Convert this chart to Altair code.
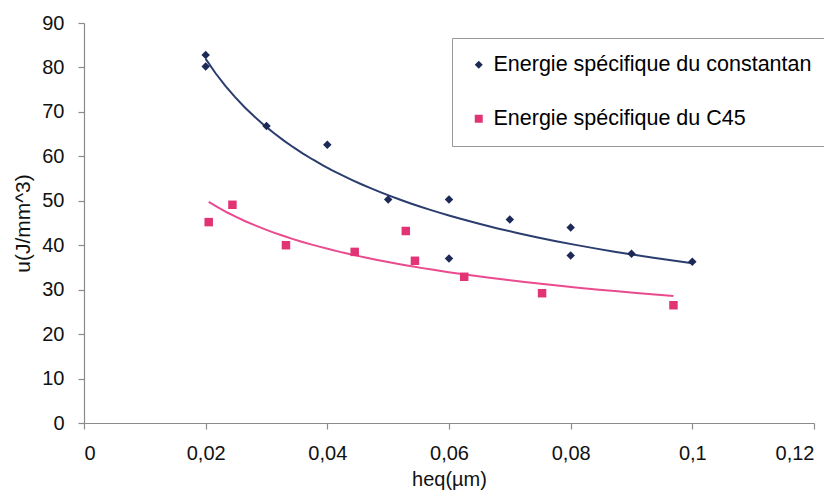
import altair as alt
import pandas as pd

S1 = "Energie spécifique du constantan"
S2 = "Energie spécifique du C45"

const_x = [0.02, 0.02, 0.03, 0.04, 0.05, 0.06, 0.06, 0.07, 0.08, 0.08, 0.09, 0.10]
const_y = [82.8, 80.2, 66.8, 62.6, 50.3, 50.3, 37.0, 45.8, 44.0, 37.7, 38.1, 36.3]

c45_x = [0.0205, 0.0244, 0.0332, 0.0445, 0.0529, 0.0544, 0.0625, 0.0753, 0.0969]
c45_y = [45.2, 49.1, 40.0, 38.5, 43.2, 36.5, 32.9, 29.2, 26.5]

x_ticks = [0, 0.02, 0.04, 0.06, 0.08, 0.10, 0.12]
y_ticks = [0, 10, 20, 30, 40, 50, 60, 70, 80, 90]

NAVY = "#1d2a57"
PINK = "#e23375"
NAVY_LINE = "#2b3c6e"
PINK_LINE = "#ea4a8e"

df = pd.concat([
    pd.DataFrame({"x": const_x, "y": const_y, "series": S1}),
    pd.DataFrame({"x": c45_x, "y": c45_y, "series": S2}),
], ignore_index=True)

FONT = "Liberation Sans"

xenc = alt.X(
    "x:Q",
    scale=alt.Scale(domain=[0, 0.12], nice=False, zero=False),
    axis=alt.Axis(
        values=x_ticks,
        labelExpr="replace(format(datum.value, '~g'), '.', ',')",
        title="heq(µm)",
        titleX=365, titleY=56, titleBaseline="middle", titleAlign="center",
        titleFontSize=20, titleFontWeight="normal",
        labelFontSize=20, labelPadding=14, tickSize=6,
    ),
)
yenc = alt.Y(
    "y:Q",
    scale=alt.Scale(domain=[0, 90], nice=False),
    axis=alt.Axis(
        values=y_ticks,
        title="u(J/mm^3)",
        titleX=-60.5, titleY=200, titleAngle=-90, titleBaseline="middle", titleAlign="center",
        titleFontSize=21, titleFontWeight="normal",
        labelFontSize=20, labelPadding=14, tickSize=6,
    ),
)

legend = alt.Legend(
    title=None, orient="none", legendX=368, legendY=15,
    labelFontSize=21.5, labelFont=FONT, labelColor="black",
    symbolSize=64, rowPadding=31, padding=16,
    strokeColor="#999999", fillColor="white", labelOffset=4,
    labelLimit=500,
)

points = alt.Chart(df).mark_point(filled=True, opacity=1, size=72).encode(
    x=xenc,
    y=yenc,
    color=alt.Color(
        "series:N",
        scale=alt.Scale(domain=[S1, S2], range=[NAVY, PINK]),
        legend=legend,
    ),
    shape=alt.Shape(
        "series:N",
        scale=alt.Scale(domain=[S1, S2], range=["diamond", "square"]),
        legend=legend,
    ),
)

line1 = alt.Chart(df).transform_filter(alt.datum.series == S1).transform_regression(
    "x", "y", method="pow"
).mark_line(color=NAVY_LINE, strokeWidth=2).encode(x="x:Q", y="y:Q")

line2 = alt.Chart(df).transform_filter(alt.datum.series == S2).transform_regression(
    "x", "y", method="pow"
).mark_line(color=PINK_LINE, strokeWidth=2).encode(x="x:Q", y="y:Q")

chart = alt.layer(line1, line2, points).properties(
    width=730, height=400,
    autosize=alt.AutoSizeParams(type="none"),
    padding={"left": 76, "top": 15, "right": 10, "bottom": 70},
    background="white",
).configure_view(stroke=None).configure_axis(
    grid=False, domainColor="#8a8a8a", tickColor="#8a8a8a", domainWidth=1.2, tickWidth=1.2,
    labelColor="#111111", titleColor="#111111", labelFont=FONT, titleFont=FONT,
)

chart.save("out.html", embed_options={"renderer": "svg", "actions": False})
